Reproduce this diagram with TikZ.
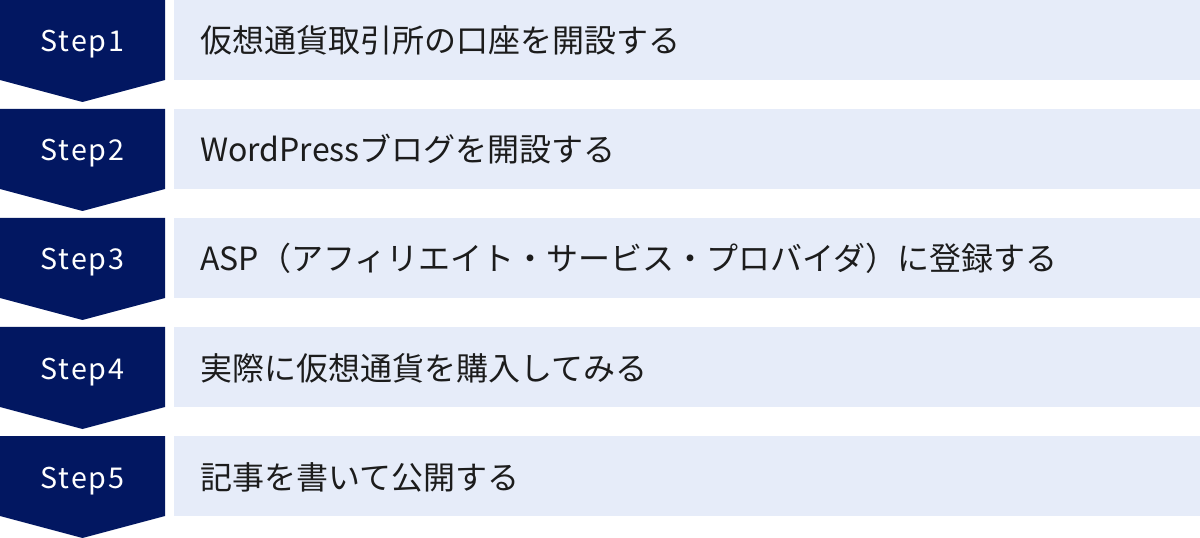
\documentclass[tikz,border=0pt]{standalone}
\usepackage{fontspec}
\setmainfont{Noto Sans CJK JP}
\newfontfamily\stepfont[LetterSpace=7]{Noto Sans CJK JP}
\definecolor{navy}{HTML}{021761}
\definecolor{pale}{HTML}{E6ECF9}
\definecolor{ink}{HTML}{1C1C1C}
\begin{document}
\begin{tikzpicture}[x=0.75pt,y=-0.75pt,
  steplabel/.style={text=white,font=\stepfont\fontsize{21.5pt}{24pt}\selectfont,anchor=base,inner sep=0pt},
  itemlabel/.style={text=ink,font=\fontsize{24pt}{28pt}\selectfont,anchor=base west,inner sep=0pt}]
\useasboundingbox (0,0) rectangle (1200,538);
\foreach \i/\txt in {0/仮想通貨取引所の口座を開設する,1/WordPressブログを開設する,2/ASP（アフィリエイト・サービス・プロバイダ）に登録する,3/実際に仮想通貨を購入してみる,4/記事を書いて公開する}{
  \pgfmathsetmacro{\t}{109*\i}
  \pgfmathtruncatemacro{\n}{\i+1}
  \fill[navy] (0,\t) -- (165,\t) -- (165,\t+80) -- (82.5,\t+102) -- (0,\t+80) -- cycle;
  \fill[pale] (174,\t) rectangle (1200,\t+80);
  \node[steplabel] (step\n) at (82.5,\t+52) {Step\n};
  \node[itemlabel] (item\n) at (200,\t+53) {\txt};
}
\end{tikzpicture}
\end{document}
